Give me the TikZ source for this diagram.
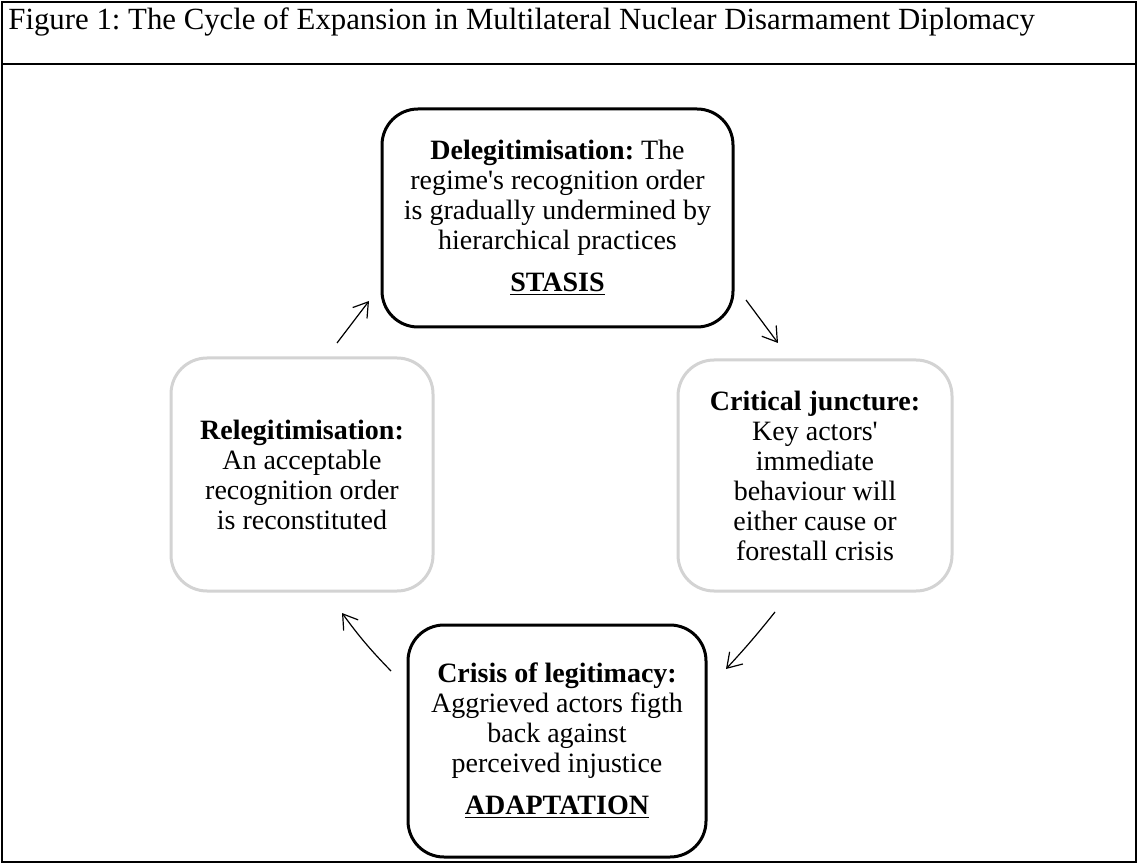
\documentclass[tikz,border=0pt]{standalone}
\usepackage{fontspec}
\setmainfont{Liberation Serif}
\frenchspacing
\usetikzlibrary{arrows.meta}
\definecolor{boxgray}{RGB}{211,211,211}
\tikzset{
  stage/.style={rounded corners=18pt, line width=1.5pt, align=center,
    inner sep=0pt, font=\fontsize{14}{15}\selectfont},
  keystage/.style={stage, draw=black},
  minorstage/.style={stage, draw=boxgray},
  cyc/.style={-{Straight Barb[length=7pt,width=9pt]}, line width=0.6pt},
}
\begin{document}
\begin{tikzpicture}[x=0.5pt,y=-0.5pt]
  \useasboundingbox (0,0) rectangle (1139,865);
  % frame and caption row
  \draw[line width=1pt] (2,2) rectangle (1136,862);
  \draw[line width=1pt] (2,64) -- (1136,64);
  \node[anchor=base west, inner sep=0pt, font=\fontsize{15.4}{17}\selectfont]
    (title) at (8,30)
    {Figure 1: The Cycle of Expansion in Multilateral Nuclear Disarmament Diplomacy};

  % the four stages
  \node[keystage, minimum width=175.5pt, minimum height=109pt] (deleg) at (557.5,218)
    {\textbf{Delegitimisation:} The\\
     regime\textquotesingle s recognition order\\
     is gradually undermined by\\
     hierarchical practices\\[6pt]
     \textbf{\underline{STASIS}}};
  \node[minorstage, minimum width=137pt, minimum height=115.5pt] (junct) at (815,475.5)
    {\textbf{Critical juncture:}\\
     Key actors\textquotesingle\\
     immediate\\
     behaviour will\\
     either cause or\\
     forestall crisis};
  \node[keystage, minimum width=149pt, minimum height=116pt] (crisis) at (557,741)
    {\textbf{Crisis of legitimacy:}\\
     Aggrieved actors figth\\
     back against\\
     perceived injustice\\[6pt]
     \textbf{\underline{ADAPTATION}}};
  \node[minorstage, minimum width=131pt, minimum height=116.5pt] (releg) at (302,474.5)
    {\textbf{Relegitimisation:}\\
     An acceptable\\
     recognition order\\
     is reconstituted};

  % arrow ends
  \coordinate (rd-s) at (337,343);
  \coordinate (rd-e) at (369,301);
  \coordinate (dj-s) at (746,300);
  \coordinate (dj-e) at (778,343);
  \coordinate (jc-s) at (775,612);
  \coordinate (jc-e) at (726,669);
  \coordinate (cr-s) at (391,671);
  \coordinate (cr-e) at (342,613);

  \begin{scope}[cyc]
    \draw (rd-s) to (rd-e);
    \draw (dj-s) to (dj-e);
    \draw (jc-s) to[bend left=2] (jc-e);
    \draw (cr-s) to[bend left=4] (cr-e);
  \end{scope}
\end{tikzpicture}
\end{document}
